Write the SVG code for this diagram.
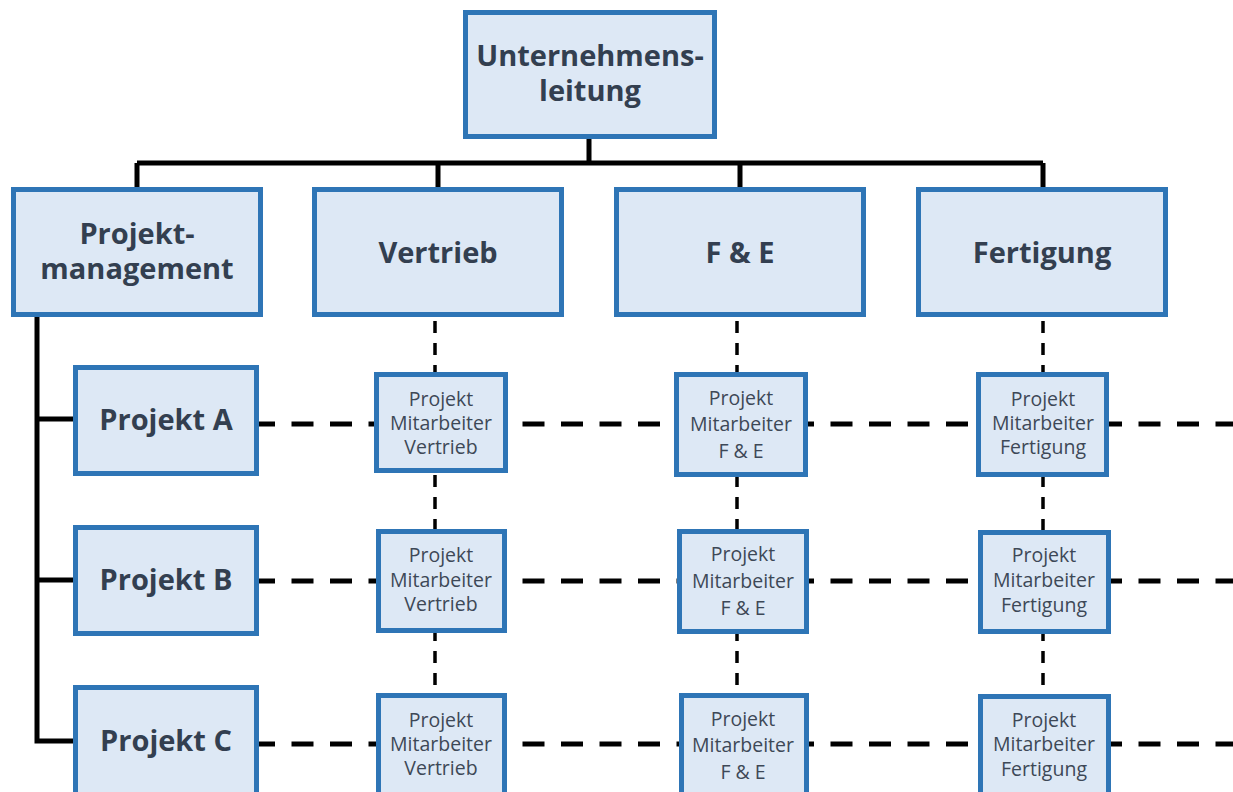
<svg xmlns="http://www.w3.org/2000/svg" width="1233" height="792" viewBox="0 0 1233 792">
  <style>
    .box { fill: #dde8f5; stroke: #2e75b6; stroke-width: 5; }
    .tree { fill: none; stroke: #000; stroke-width: 5; }
    .row { fill: none; stroke: #000; stroke-width: 5; stroke-dasharray: 22 16.5; }
    .col { fill: none; stroke: #000; stroke-width: 3.5; stroke-dasharray: 12 10; }
    .big { font-family: "Open Sans", "Liberation Sans", sans-serif; font-weight: 700; font-size: 29px; fill: #333f50; text-anchor: middle; }
    .small { font-family: "Open Sans", "Liberation Sans", sans-serif; font-size: 19.5px; fill: #3d4857; text-anchor: middle; }
  </style>
  <rect width="1233" height="792" fill="#fff"/>

  <!-- connectors -->
  <g id="connectors">
    <!-- solid hierarchy lines -->
    <path class="tree" d="M589 139 V163 M137 163 H1043 M137 163 V188 M438 163 V188 M740 163 V188 M1043 163 V188"/>
    <path class="tree" d="M37 317 V741 H74 M37 419 H74 M37 580 H74"/>
    <!-- project rows (dashed) -->
    <line class="row" x1="253" y1="424" x2="1233" y2="424"/>
    <line class="row" x1="253" y1="581" x2="1233" y2="581"/>
    <line class="row" x1="253" y1="744" x2="1233" y2="744"/>
    <!-- department columns (dashed) -->
    <line class="col" x1="435" y1="321" x2="435" y2="792"/>
    <line class="col" x1="737" y1="321" x2="737" y2="792"/>
    <line class="col" x1="1043" y1="321" x2="1043" y2="792"/>
  </g>

  <!-- top level -->
  <g id="unternehmensleitung">
    <rect class="box" x="465.5" y="12.5" width="249" height="124"/>
    <text class="big" x="590" y="66">Unternehmens-</text>
    <text class="big" x="590" y="101">leitung</text>
  </g>

  <!-- departments -->
  <g id="projektmanagement">
    <rect class="box" x="13.5" y="189.5" width="247" height="125"/>
    <text class="big" x="137" y="244">Projekt-</text>
    <text class="big" x="137" y="279">management</text>
  </g>
  <g id="vertrieb">
    <rect class="box" x="314.5" y="189.5" width="247" height="125"/>
    <text class="big" x="438" y="263">Vertrieb</text>
  </g>
  <g id="fe">
    <rect class="box" x="616.5" y="189.5" width="247" height="125"/>
    <text class="big" x="740" y="263">F &amp; E</text>
  </g>
  <g id="fertigung">
    <rect class="box" x="918.5" y="189.5" width="247" height="125"/>
    <text class="big" x="1042" y="263">Fertigung</text>
  </g>

  <!-- projects -->
  <g id="projekt-a">
    <rect class="box" x="75.5" y="367.5" width="181" height="106"/>
    <text class="big" x="166" y="430">Projekt A</text>
  </g>
  <g id="projekt-b">
    <rect class="box" x="75.5" y="527.5" width="181" height="106"/>
    <text class="big" x="166" y="590">Projekt B</text>
  </g>
  <g id="projekt-c">
    <rect class="box" x="75.5" y="687.5" width="181" height="115"/>
    <text class="big" x="166" y="751">Projekt C</text>
  </g>

  <!-- project staff, row A -->
  <g id="a-vertrieb">
    <rect class="box" x="376.5" y="374.5" width="129" height="96"/>
    <text class="small" x="441" y="406">Projekt</text>
    <text class="small" x="441" y="430">Mitarbeiter</text>
    <text class="small" x="441" y="454">Vertrieb</text>
  </g>
  <g id="a-fe">
    <rect class="box" x="676.5" y="374.5" width="129" height="100"/>
    <text class="small" x="741" y="405">Projekt</text>
    <text class="small" x="741" y="431">Mitarbeiter</text>
    <text class="small" x="741" y="458">F &amp; E</text>
  </g>
  <g id="a-fertigung">
    <rect class="box" x="978.5" y="374.5" width="128" height="100"/>
    <text class="small" x="1043" y="406">Projekt</text>
    <text class="small" x="1043" y="430">Mitarbeiter</text>
    <text class="small" x="1043" y="454">Fertigung</text>
  </g>

  <!-- project staff, row B -->
  <g id="b-vertrieb">
    <rect class="box" x="378.5" y="531.5" width="126" height="99"/>
    <text class="small" x="441" y="562">Projekt</text>
    <text class="small" x="441" y="587">Mitarbeiter</text>
    <text class="small" x="441" y="611">Vertrieb</text>
  </g>
  <g id="b-fe">
    <rect class="box" x="679.5" y="531.5" width="127" height="100"/>
    <text class="small" x="743" y="561">Projekt</text>
    <text class="small" x="743" y="588">Mitarbeiter</text>
    <text class="small" x="743" y="615">F &amp; E</text>
  </g>
  <g id="b-fertigung">
    <rect class="box" x="980.5" y="532.5" width="128" height="99"/>
    <text class="small" x="1044" y="562">Projekt</text>
    <text class="small" x="1044" y="587">Mitarbeiter</text>
    <text class="small" x="1044" y="612">Fertigung</text>
  </g>

  <!-- project staff, row C -->
  <g id="c-vertrieb">
    <rect class="box" x="378.5" y="695.5" width="126" height="110"/>
    <text class="small" x="441" y="727">Projekt</text>
    <text class="small" x="441" y="751">Mitarbeiter</text>
    <text class="small" x="441" y="775">Vertrieb</text>
  </g>
  <g id="c-fe">
    <rect class="box" x="681.5" y="695.5" width="125" height="110"/>
    <text class="small" x="743" y="726">Projekt</text>
    <text class="small" x="743" y="752">Mitarbeiter</text>
    <text class="small" x="743" y="779">F &amp; E</text>
  </g>
  <g id="c-fertigung">
    <rect class="box" x="980.5" y="696.5" width="128" height="110"/>
    <text class="small" x="1044" y="727">Projekt</text>
    <text class="small" x="1044" y="751">Mitarbeiter</text>
    <text class="small" x="1044" y="776">Fertigung</text>
  </g>
</svg>
